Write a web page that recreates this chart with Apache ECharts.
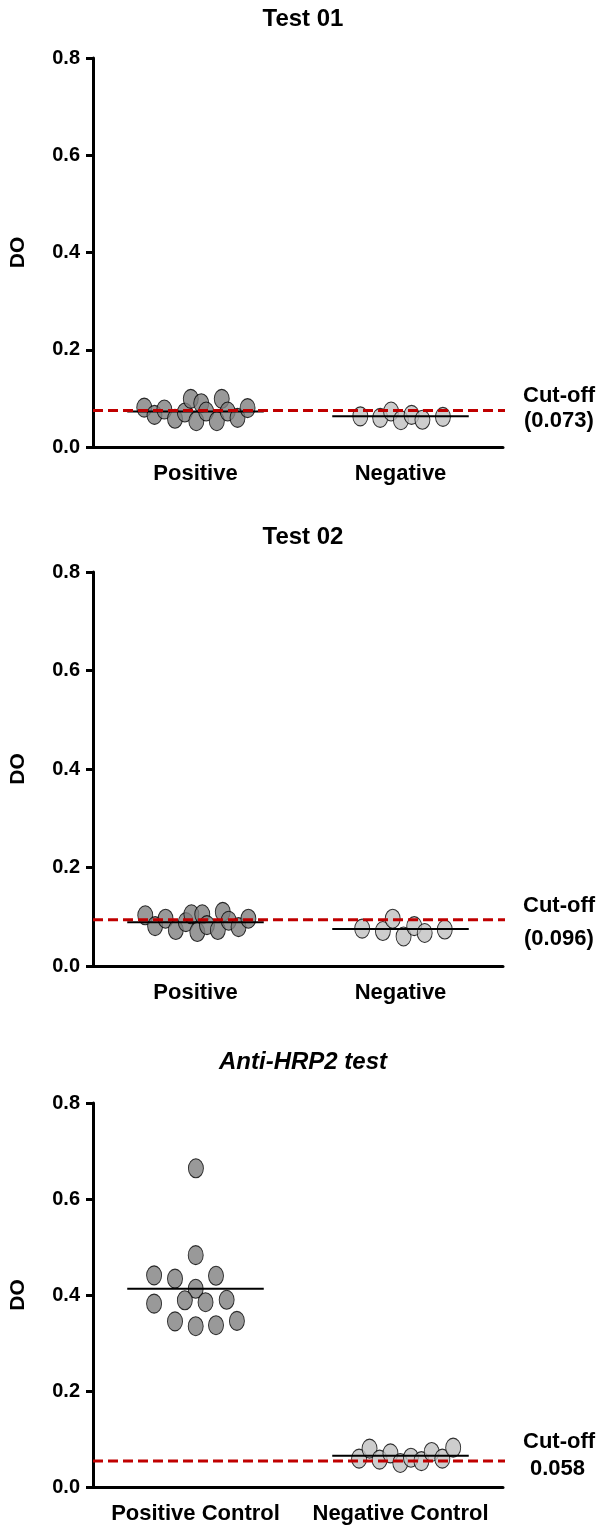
<!DOCTYPE html>
<html>
<head>
<meta charset="utf-8">
<script src="https://cdn.jsdelivr.net/npm/echarts@6/dist/echarts.min.js"></script>
<style>
html,body{margin:0;padding:0;background:#fff;}
#chart{width:600px;height:1528px;}
</style>
</head>
<body>
<div id="chart"></div>
<script>
// ---- data (x = category position 1 / 2 plus jitter, y = DO) ----
const titles = ['Test 01', 'Test 02', 'Anti-HRP2 test'];
const categoriesTest = ['Positive', 'Negative'];
const categoriesControl = ['Positive Control', 'Negative Control'];
const yTicks = [0.0, 0.2, 0.4, 0.6, 0.8];

const test01Positive = [[0.750,0.081],[0.800,0.066],[0.848,0.077],[0.900,0.058],[0.948,0.071],[0.977,0.099],[1.004,0.053],[1.028,0.090],[1.052,0.073],[1.104,0.053],[1.128,0.099],[1.157,0.073],[1.205,0.060],[1.254,0.080]];
const test01Negative = [[1.804,0.063],[1.901,0.060],[1.954,0.073],[2.002,0.055],[2.054,0.066],[2.107,0.056],[2.207,0.062]];
const test01Means = [0.073, 0.063];
const test01Cutoff = 0.075;
const test01CutoffLabel = ['Cut-off', '(0.073)'];

const test02Positive = [[0.755,0.103],[0.803,0.081],[0.854,0.096],[0.904,0.073],[0.953,0.089],[0.980,0.105],[1.009,0.069],[1.033,0.105],[1.056,0.083],[1.109,0.073],[1.133,0.110],[1.162,0.092],[1.210,0.079],[1.258,0.096]];
const test02Negative = [[1.813,0.076],[1.914,0.071],[1.962,0.096],[2.015,0.060],[2.067,0.081],[2.118,0.067],[2.216,0.074]];
const test02Means = [0.089, 0.075];
const test02Cutoff = 0.094;
const test02CutoffLabel = ['Cut-off', '(0.096)'];

const hrp2Positive = [[1.002,0.664],[1.001,0.483],[0.798,0.441],[0.900,0.434],[1.100,0.440],[1.001,0.413],[0.798,0.382],[0.948,0.389],[1.049,0.385],[1.152,0.390],[0.900,0.345],[1.001,0.335],[1.100,0.337],[1.202,0.346]];
const hrp2Negative = [[1.798,0.059],[1.849,0.080],[1.898,0.057],[1.951,0.070],[1.999,0.050],[2.051,0.061],[2.102,0.054],[2.152,0.073],[2.204,0.059],[2.257,0.082]];
const hrp2Means = [0.413, 0.065];
const hrp2Cutoff = 0.054;
const hrp2CutoffLabel = ['Cut-off', '0.058'];

const meanHalfWidth = [0.333, 0.333];

// ---- layout ----
const panels = [
  {cats: categoriesTest, pos: test01Positive, neg: test01Negative, means: test01Means, cut: test01Cutoff, cutLabel: test01CutoffLabel,
   top: 58, height: 389, titleTop: 2, italic: false, cutEnd: 2.535, labelY: [397, 422], label2X: 524},
  {cats: categoriesTest, pos: test02Positive, neg: test02Negative, means: test02Means, cut: test02Cutoff, cutLabel: test02CutoffLabel,
   top: 572, height: 394, titleTop: 520, italic: false, cutEnd: 2.535, labelY: [907, 940], label2X: 524},
  {cats: categoriesControl, pos: hrp2Positive, neg: hrp2Negative, means: hrp2Means, cut: hrp2Cutoff, cutLabel: hrp2CutoffLabel,
   top: 1103, height: 384, titleTop: 1045, italic: true, cutEnd: 2.525, labelY: [1443, 1470], label2X: 530}
];

const FONT = '"Liberation Sans", Arial, Helvetica, sans-serif';
const ellipse = 'path://M0,-1A1,1 0 1,1 0,1A1,1 0 1,1 0,-1Z';

const option = {
  animation: false,
  backgroundColor: '#ffffff',
  title: [], grid: [], xAxis: [], yAxis: [], series: [], graphic: []
};

panels.forEach((p, i) => {
  option.title.push({
    text: titles[i], left: 298, textAlign: 'center', top: p.titleTop,
    textStyle: {fontFamily: FONT, fontSize: 24, fontWeight: 'bold', fontStyle: p.italic ? 'italic' : 'normal', color: '#000'}
  });
  option.grid.push({left: 89, right: 97, top: p.top, height: p.height});
  option.xAxis.push({
    type: 'category', gridIndex: i, data: p.cats, boundaryGap: true,
    axisLine: {lineStyle: {color: '#000', width: 3}},
    axisTick: {alignWithLabel: true, length: 7, lineStyle: {color: '#000', width: 3}},
    axisLabel: {fontFamily: FONT, fontSize: 22, fontWeight: 'bold', color: '#000', margin: 16, interval: 0},
    splitLine: {show: false}
  });
  option.xAxis.push({
    type: 'value', gridIndex: i, min: 0.5, max: 2.5, show: false, splitLine: {show: false}
  });
  option.yAxis.push({
    type: 'value', gridIndex: i, min: yTicks[0], max: yTicks[yTicks.length - 1], interval: 0.2,
    name: 'DO', nameLocation: 'middle', nameGap: 64, nameRotate: 90,
    nameTextStyle: {fontFamily: FONT, fontSize: 21, fontWeight: 'bold', color: '#000'},
    axisLine: {show: true, lineStyle: {color: '#000', width: 3}},
    axisTick: {show: true, length: 7, lineStyle: {color: '#000', width: 3}},
    axisLabel: {fontFamily: FONT, fontSize: 20, fontWeight: 'bold', color: '#000', margin: 13,
      formatter: v => v.toFixed(1)},
    splitLine: {show: false}
  });
  const xIdx = i * 2 + 1;
  option.series.push({
    type: 'scatter', xAxisIndex: xIdx, yAxisIndex: i, data: p.pos, symbol: ellipse, symbolSize: [15, 19],
    itemStyle: {color: '#808080', borderColor: '#000', borderWidth: 1}, z: 2
  });
  option.series.push({
    type: 'scatter', xAxisIndex: xIdx, yAxisIndex: i, data: p.neg, symbol: ellipse, symbolSize: [15, 19],
    itemStyle: {color: '#c0c0c0', borderColor: '#000', borderWidth: 1}, z: 2
  });
  p.means.forEach((m, k) => {
    const c = k + 1;
    option.series.push({
      type: 'line', xAxisIndex: xIdx, yAxisIndex: i, symbol: 'none', silent: true,
      data: [[c - meanHalfWidth[k], m], [c + meanHalfWidth[k], m]],
      lineStyle: {color: '#000', width: 2}, z: 3
    });
  });
  option.series.push({
    type: 'line', xAxisIndex: xIdx, yAxisIndex: i, symbol: 'none', silent: true, clip: false,
    data: [[0.5, p.cut], [p.cutEnd, p.cut]],
    lineStyle: {color: '#c00000', width: 3, type: [10, 5]}, z: 4
  });
  option.graphic.push({
    type: 'text', left: 523, top: p.labelY[0] - 12,
    style: {text: p.cutLabel[0], font: 'bold 22px ' + FONT, fill: '#000'}
  });
  option.graphic.push({
    type: 'text', left: p.label2X, top: p.labelY[1] - 12,
    style: {text: p.cutLabel[1], font: 'bold 22px ' + FONT, fill: '#000'}
  });
});

const chart = echarts.init(document.getElementById('chart'), null, {renderer: 'canvas'});
chart.setOption(option);
</script>
</body>
</html>
